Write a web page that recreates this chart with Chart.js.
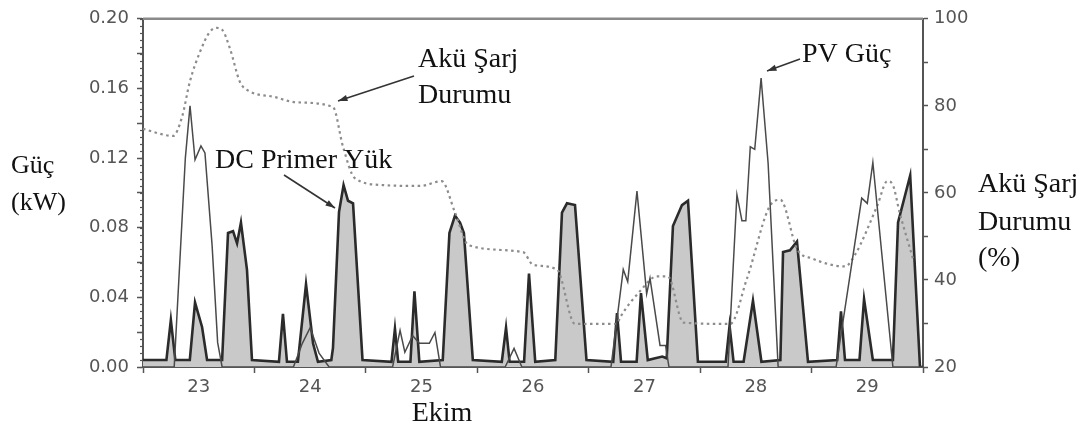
<!DOCTYPE html>
<html>
<head>
<meta charset="utf-8">
<script src="https://cdn.jsdelivr.net/npm/chart.js@4.4.1/dist/chart.umd.min.js"></script>
<style>
  html, body { margin: 0; padding: 0; background: #fff; }
  #wrap { width: 1090px; height: 436px; position: relative; }
</style>
</head>
<body>
<div id="wrap"><canvas id="chart"></canvas></div>
<script>
// Ekim 23-30: DC primer yük, PV güç (kW) ve akü şarj durumu (%)

const dayTicks = [23, 24, 25, 26, 27, 28, 29, 30];

// DC primer yük (kW)
const loadT = [23.00, 23.21, 23.25, 23.29, 23.42, 23.467, 23.53, 23.575, 23.71, 23.763, 23.808, 23.844, 23.879, 23.933, 23.978,
  24.22, 24.256, 24.292, 24.39, 24.463, 24.526, 24.57, 24.69, 24.705, 24.759, 24.80, 24.84, 24.885, 24.97,
  25.23, 25.261, 25.29, 25.40, 25.436, 25.48, 25.69, 25.75, 25.80, 25.845, 25.88, 25.96,
  26.22, 26.258, 26.29, 26.42, 26.464, 26.52, 26.70, 26.76, 26.805, 26.877, 26.98,
  27.22, 27.254, 27.29, 27.43, 27.469, 27.53, 27.66, 27.70, 27.756, 27.837, 27.891, 27.98,
  28.23, 28.264, 28.30, 28.39, 28.474, 28.55, 28.72, 28.744, 28.806, 28.869, 28.968,
  29.23, 29.264, 29.30, 29.43, 29.471, 29.55, 29.73, 29.776, 29.885, 29.973, 30.0];
const loadKW = [0.004, 0.004, 0.027, 0.004, 0.004, 0.037, 0.023, 0.004, 0.004, 0.077, 0.078, 0.071, 0.083, 0.056, 0.004,
  0.003, 0.0305, 0.003, 0.003, 0.0475, 0.0136, 0.003, 0.004, 0.011, 0.089, 0.1045, 0.0955, 0.094, 0.004,
  0.003, 0.022, 0.003, 0.003, 0.0435, 0.003, 0.004, 0.077, 0.087, 0.083, 0.077, 0.004,
  0.003, 0.0226, 0.003, 0.003, 0.0537, 0.003, 0.004, 0.0887, 0.094, 0.093, 0.004,
  0.003, 0.031, 0.003, 0.003, 0.0424, 0.004, 0.006, 0.005, 0.081, 0.093, 0.0955, 0.003,
  0.003, 0.0237, 0.003, 0.003, 0.038, 0.003, 0.004, 0.066, 0.067, 0.072, 0.003,
  0.004, 0.032, 0.004, 0.004, 0.039, 0.004, 0.004, 0.083, 0.110, 0.0, 0.0];

// PV güç (kW)
const pvT = [23.00, 23.28, 23.38, 23.422, 23.467, 23.52, 23.556, 23.62, 23.67, 23.71,
  24.35, 24.43, 24.50, 24.58, 24.67,
  25.24, 25.307, 25.35, 25.42, 25.48, 25.57, 25.62, 25.67,
  26.25, 26.33, 26.40,
  27.20, 27.31, 27.35, 27.433, 27.52, 27.55, 27.64, 27.69, 27.72,
  28.25, 28.33, 28.375, 28.41, 28.45, 28.49, 28.547, 28.61, 28.70,
  29.22, 29.45, 29.50, 29.55, 29.73, 30.0];
const pvKW = [0, 0, 0.12, 0.150, 0.119, 0.127, 0.123, 0.070, 0.014, 0,
  0, 0.0136, 0.0226, 0.008, 0,
  0, 0.021, 0.0085, 0.018, 0.0136, 0.0136, 0.0198, 0,
  0, 0.0107, 0,
  0, 0.056, 0.049, 0.101, 0.042, 0.051, 0.0124, 0.0124, 0,
  0, 0.099, 0.084, 0.084, 0.1265, 0.125, 0.166, 0.117, 0,
  0, 0.097, 0.094, 0.1175, 0, 0];

// Akü şarj durumu (%)
const socT = [23.00, 23.27, 23.35, 23.42, 23.51, 23.60, 23.66, 23.71, 23.78, 23.87, 23.96, 24.17, 24.38, 24.705, 24.795, 24.90,
  25.15, 25.49, 25.68, 25.80, 25.92, 26.41, 26.50, 26.715, 26.877, 27.254, 27.28, 27.46, 27.61, 27.71, 27.85,
  28.27, 28.42, 28.645, 28.72, 28.87, 29.01, 29.30, 29.39, 29.59, 29.68, 29.73, 29.79, 29.91];
const socPct = [74.7, 73.1, 77.4, 85.5, 92.3, 97.0, 97.9, 97.5, 93.2, 85.5, 83.3, 82.1, 80.8, 79.7, 70.6, 63.4,
  61.8, 61.6, 62.7, 55.5, 48.0, 46.4, 43.5, 42.4, 29.9, 29.9, 31.3, 37.4, 40.8, 40.8, 30.2,
  29.9, 40.3, 57.7, 58.4, 47.1, 44.9, 43.1, 45.8, 57.1, 62.7, 61.8, 55.5, 44.9];

const pts = (t, v) => t.map((x, i) => ({ x: x, y: v[i] }));

const tickFont = { family: 'DejaVu Sans', size: 18 };
const axisCol = '#555';

// Metinler, oklar, üst çerçeve ve küçük çentikler
const decor = {
  id: 'decor',
  afterDraw(chart) {
    const ctx = chart.ctx, a = chart.chartArea;
    const y = chart.scales.y;
    ctx.save();
    // üst çerçeve
    ctx.strokeStyle = '#8a8a8a';
    ctx.lineWidth = 2.5;
    ctx.beginPath(); ctx.moveTo(a.left, a.top); ctx.lineTo(a.right, a.top); ctx.stroke();
    // sol eksende küçük çentikler
    ctx.strokeStyle = axisCol; ctx.lineWidth = 1.2;
    for (let v = 0; v <= 0.2001; v += 0.004) {
      const py = Math.round(y.getPixelForValue(v)) + 0.5;
      ctx.beginPath(); ctx.moveTo(a.left - 3, py); ctx.lineTo(a.left, py); ctx.stroke();
    }
    // yazılar
    ctx.fillStyle = '#111';
    ctx.textBaseline = 'alphabetic';
    ctx.textAlign = 'left';
    ctx.font = '28px "Liberation Serif"';
    ctx.fillText('Akü Şarj', 418, 67);
    ctx.fillText('Durumu', 418, 103);
    ctx.fillText('DC Primer Yük', 215, 168);
    ctx.fillText('PV Güç', 802, 62);
    ctx.fillText('Akü Şarj', 978, 192);
    ctx.fillText('Durumu', 978, 230);
    ctx.fillText('(%)', 978, 266);
    ctx.font = '26px "Liberation Serif"';
    ctx.fillText('Güç', 11, 173);
    ctx.fillText('(kW)', 11, 210);
    ctx.textAlign = 'center';
    ctx.font = '28px "Liberation Serif"';
    ctx.fillText('Ekim', 442, 421);
    // oklar
    const arrow = (x1, y1, x2, y2) => {
      ctx.strokeStyle = '#333'; ctx.fillStyle = '#333'; ctx.lineWidth = 1.6;
      ctx.beginPath(); ctx.moveTo(x1, y1); ctx.lineTo(x2, y2); ctx.stroke();
      const ang = Math.atan2(y2 - y1, x2 - x1), L = 10, W = 0.33;
      ctx.beginPath();
      ctx.moveTo(x2, y2);
      ctx.lineTo(x2 - L * Math.cos(ang - W), y2 - L * Math.sin(ang - W));
      ctx.lineTo(x2 - L * Math.cos(ang + W), y2 - L * Math.sin(ang + W));
      ctx.closePath(); ctx.fill();
    };
    arrow(414, 76, 338, 101);
    arrow(284, 175, 335, 208);
    arrow(800, 59, 767, 71);
    ctx.restore();
  }
};

new Chart(document.getElementById('chart'), {
  type: 'line',
  data: {
    datasets: [
      {
        label: 'DC Primer Yük',
        data: pts(loadT, loadKW),
        yAxisID: 'y',
        borderColor: '#2b2b2b',
        borderWidth: 2.6,
        backgroundColor: '#c9c9c9',
        fill: 'origin',
        pointRadius: 0,
        tension: 0,
        order: 2
      },
      {
        label: 'Akü Şarj Durumu',
        data: pts(socT, socPct),
        yAxisID: 'y1',
        borderColor: '#8c8c8c',
        borderWidth: 2.2,
        borderDash: [2.5, 3.5],
        fill: false,
        pointRadius: 0,
        tension: 0.35,
        cubicInterpolationMode: 'monotone',
        order: 1
      },
      {
        label: 'PV Güç',
        data: pts(pvT, pvKW),
        yAxisID: 'y',
        borderColor: '#4a4a4a',
        borderWidth: 1.5,
        fill: false,
        pointRadius: 0,
        tension: 0,
        order: 0
      }
    ]
  },
  options: {
    responsive: true,
    maintainAspectRatio: false,
    animation: false,
    layout: { padding: { top: 13, left: 0, right: 0, bottom: 0 } },
    plugins: { legend: { display: false }, tooltip: { enabled: false } },
    scales: {
      x: {
        type: 'linear',
        min: 23, max: 30,
        afterBuildTicks: s => { s.ticks = dayTicks.map(v => ({ value: v })); },
        afterFit: s => { s.height = 69; },
        ticks: {
          autoSkip: false, maxRotation: 0, padding: 4,
          labelOffset: 55.7,
          font: tickFont, color: axisCol,
          callback: v => (v < 30 ? String(v) : '')
        },
        grid: { drawOnChartArea: false, tickLength: 6, tickColor: axisCol, tickWidth: 1.5 },
        border: { color: axisCol, width: 2 }
      },
      y: {
        position: 'left',
        min: 0, max: 0.2,
        afterFit: s => { s.width = 143; },
        ticks: {
          stepSize: 0.02, padding: 8,
          font: tickFont, color: axisCol,
          callback: v => (Math.round(v * 100) % 4 === 0 ? v.toFixed(2) : '')
        },
        grid: { drawOnChartArea: false, tickLength: 6, tickColor: axisCol, tickWidth: 1.5 },
        border: { color: axisCol, width: 2 }
      },
      y1: {
        position: 'right',
        min: 20, max: 100,
        afterFit: s => { s.width = 167; },
        ticks: {
          stepSize: 5, padding: 6,
          font: tickFont, color: axisCol,
          callback: v => (v % 20 === 0 ? String(v) : '')
        },
        grid: { drawOnChartArea: false, tickLength: 5, tickColor: axisCol, tickWidth: 1.5 },
        border: { color: axisCol, width: 2 }
      }
    }
  },
  plugins: [decor]
});
</script>
</body>
</html>
